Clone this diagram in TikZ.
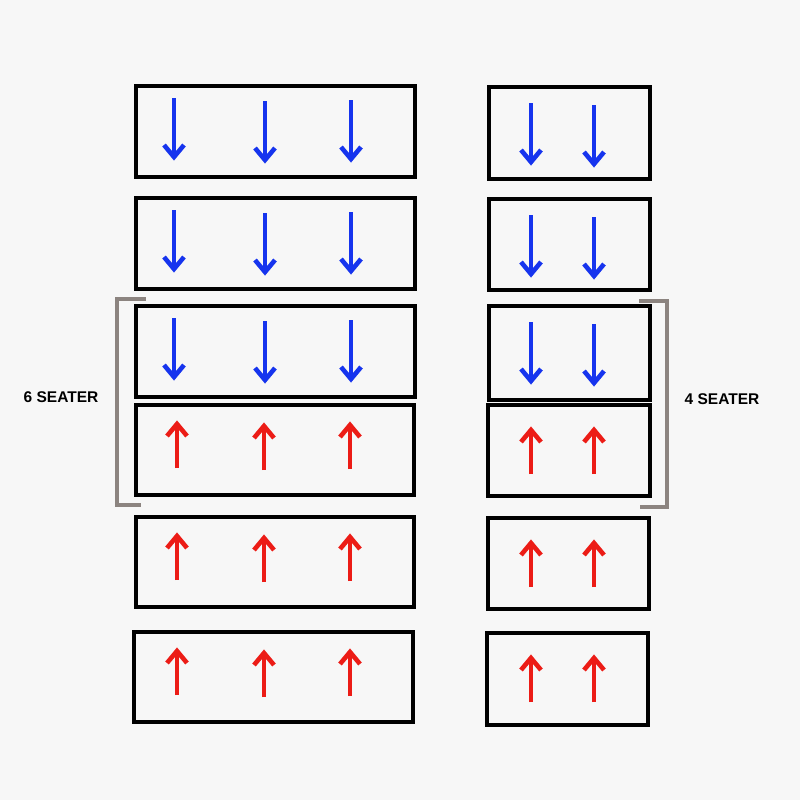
\documentclass[tikz,border=0pt]{standalone}
\usepackage{fontspec}
\setmainfont{Liberation Sans}
\definecolor{bg}{RGB}{247,247,247}
\definecolor{seatblue}{RGB}{22,52,238}
\definecolor{seatred}{RGB}{236,28,22}
\definecolor{brk}{RGB}{140,132,128}
\begin{document}
\begin{tikzpicture}[x=1pt,y=-1pt,
  seat/.style={draw=black,line width=4pt,fill=none},
  shaft/.style={line width=3.8pt},
  head/.style={line width=4.6pt,line join=miter},
  downarr/.pic={
    \draw[seatblue,shaft] (0,-62) -- (0,-3);
    \draw[seatblue,head] (-10,-15) -- (0,-3) -- (10,-15);
  },
  uparr/.pic={
    \draw[seatred,shaft] (0,47) -- (0,3);
    \draw[seatred,head] (-10,15) -- (0,3) -- (10,15);
  },
  bracket/.style={brk,line width=4pt},
  lab/.style={font=\bfseries\fontsize{15.5}{18}\selectfont,inner sep=0pt}]
\fill[bg] (0,0) rectangle (800,800);
\useasboundingbox (0,0) rectangle (800,800);
% left column boxes
\draw[seat] (136,86) rectangle (415,177) coordinate (L1);
\draw[seat] (136,198) rectangle (415,289) coordinate (L2);
\draw[seat] (136,306) rectangle (415,397) coordinate (L3);
\draw[seat] (136,405) rectangle (414,495) coordinate (L4);
\draw[seat] (136,517) rectangle (414,607) coordinate (L5);
\draw[seat] (134,632) rectangle (413,722) coordinate (L6);
% right column boxes
\draw[seat] (489,87) rectangle (650,179) coordinate (R1);
\draw[seat] (489,199) rectangle (650,290) coordinate (R2);
\draw[seat] (489,306) rectangle (650,400) coordinate (R3);
\draw[seat] (488,405) rectangle (650,496) coordinate (R4);
\draw[seat] (488,518) rectangle (649,609) coordinate (R5);
\draw[seat] (487,633) rectangle (648,725) coordinate (R6);
% down arrows (tip positions)
\foreach \t in {86,198,306}{
  \pic at (174,\t+74) {downarr};
  \pic at (265,\t+77) {downarr};
  \pic at (351,\t+76) {downarr};
}
\foreach \t in {87,199,306}{
  \pic at (531,\t+78) {downarr};
  \pic at (594,\t+80) {downarr};
}
% up arrows (tip positions)
\foreach \t in {405,517,632}{
  \pic at (177,\t+16) {uparr};
  \pic at (264,\t+18) {uparr};
  \pic at (350,\t+17) {uparr};
}
\foreach \t in {405,518,633}{
  \pic at (531,\t+22) {uparr};
  \pic at (594,\t+22) {uparr};
}
% brackets
\draw[bracket] (146,299) -- (117,299) -- (117,505) -- (141,505);
\draw[bracket] (639,301) -- (667,301) -- (667,507) -- (640,507);
% labels
\node[lab] (six) at (61,397) {6 SEATER};
\node[lab] (four) at (722,399) {4 SEATER};
\end{tikzpicture}
\end{document}
